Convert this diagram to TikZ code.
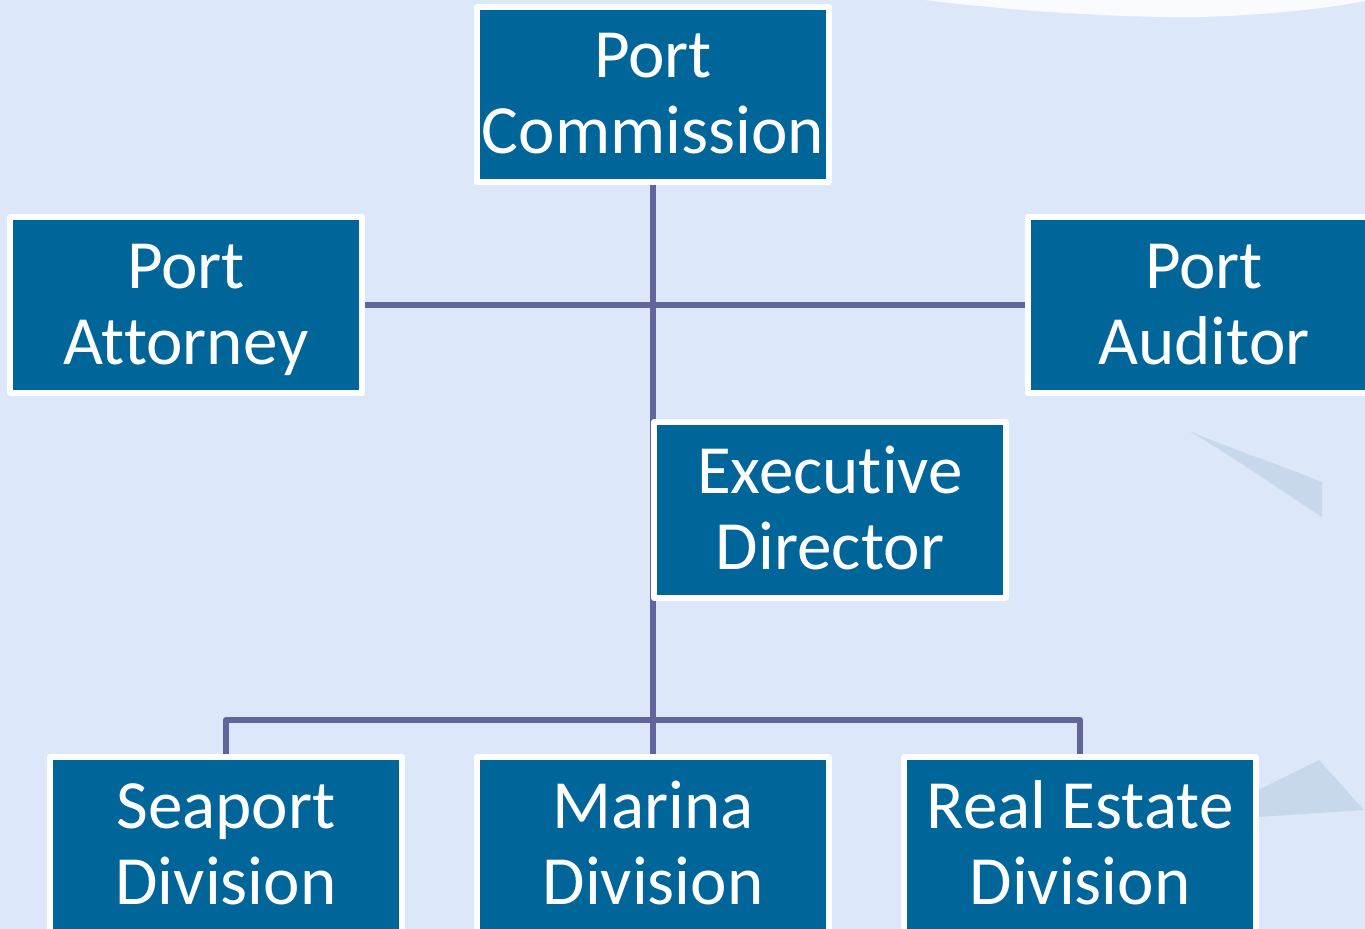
\documentclass[tikz,border=0pt]{standalone}
\usepackage{fontspec}
\setmainfont[Ligatures=NoCommon]{Carlito}
\usetikzlibrary{backgrounds}
\definecolor{bgblue}{HTML}{DCE8FA}
\definecolor{boxblue}{HTML}{006598}
\definecolor{linkpurple}{HTML}{62649C}
\definecolor{ghost}{HTML}{C8D8EC}
\newcommand{\twolines}[2]{\rule{0pt}{46pt}#1\\#2\rule[-13.8pt]{0pt}{13.8pt}}
\tikzset{
  x=0.75pt,y=-0.75pt,
  orgbox/.style={draw=white,fill=boxblue,line width=4.5pt,line join=round,
    minimum width=264pt,minimum height=131.5pt,inner sep=0pt,align=center,text=white,
    font=\fontsize{51.8}{57}\selectfont},
  link/.style={draw=linkpurple,line width=4.5pt,line join=round}
}
\begin{document}
\begin{tikzpicture}
\useasboundingbox (0,0) rectangle (1365,929);
\clip (0,0) rectangle (1365,929);
\node[orgbox] (pc) at (653,94.5) {\twolines{Port}{Commission}};
\node[orgbox] (pa) at (186,305) {\twolines{Port}{Attorney}};
\node[orgbox] (au) at (1204,305) {\twolines{Port}{Auditor}};
\node[orgbox] (ed) at (830,510) {\twolines{Executive}{Director}};
\node[orgbox] (sd) at (226,845) {\twolines{Seaport}{Division}};
\node[orgbox] (md) at (653,845) {\twolines{Marina}{Division}};
\node[orgbox] (re) at (1080,845) {\twolines{Real Estate}{Division}};
\coordinate (bus) at (653,720);
\begin{pgfonlayer}{background}
\clip (0,0) rectangle (1365,929);
\fill[bgblue] (0,0) rectangle (1365,929);
\fill[white,opacity=.85] (925,0) .. controls (1020,12) and (1130,18) .. (1200,17) .. controls (1270,15) and (1330,8) .. (1365,1) -- (1365,0) -- cycle;
\fill[ghost] (1189,431) .. controls (1235,450) and (1280,465) .. (1322,482) -- (1322,517) .. controls (1280,490) and (1235,458) .. (1189,431) -- cycle;
\fill[ghost] (1258,790) -- (1319,760) -- (1364,810) -- (1258,817) -- cycle;
\draw[link] (pc.south) -- (md.north);
\draw[link] (pa.east) -- (au.west);
\draw[link] (sd.north) |- (bus) -| (re.north);
\end{pgfonlayer}
\end{tikzpicture}
\end{document}
